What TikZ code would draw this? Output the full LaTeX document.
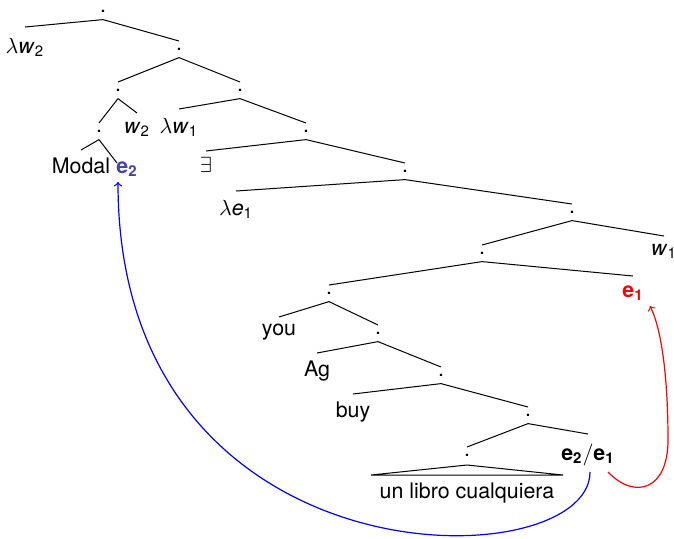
\documentclass[tikz,border=0pt]{standalone}
\usepackage{fontspec}
\setmainfont{TeX Gyre Heros}
\definecolor{slateblue}{RGB}{64,64,184}
\newcommand\var[2]{\textit{#1}\textsubscript{#2}}
\newcommand\bvar[2]{\textbf{#1}\textsubscript{\textbf{#2}}}
\begin{document}
\begin{tikzpicture}[x=0.5pt,y=-0.5pt,
  every node/.style={inner sep=0pt,outer sep=0pt,anchor=base,font=\fontsize{10.7}{13}\selectfont},
  branch/.style={line width=0.5pt},
  link/.style={->,line width=0.6pt}]
\useasboundingbox (0,0) rectangle (674,538);
% inner nodes (dots), placed on their baselines
\node (d0)  at (103,12)  {.};
\node (d1)  at (179,50)  {.};
\node (d2)  at (118,91)  {.};
\node (d3)  at (240,91)  {.};
\node (d4)  at (99,132)  {.};
\node (d5)  at (306,132) {.};
\node (d6)  at (405,172) {.};
\node (d7)  at (572,213) {.};
\node (d8)  at (482,254) {.};
\node (d9)  at (329,294) {.};
\node (d10) at (378,334) {.};
\node (d11) at (441,376) {.};
\node (d12) at (528,416) {.};
\node (d13) at (467,456) {.};
% leaves
\node (lw2)   at (25,53)   {$\lambda$\var{w}{2}};
\node (w2)    at (137,133) {\var{w}{2}};
\node (lw1)   at (179,133) {$\lambda$\var{w}{1}};
\node (modal) at (81,173)  {Modal};
\node[text=slateblue] (e2) at (127,173) {\bvar{e}{2}};
\node (ex)    at (206,172) {$\exists$};
\node (le1)   at (236,215) {$\lambda$\var{e}{1}};
\node (w1)    at (664,255) {\var{w}{1}};
\node[text=red] (e1) at (633,297) {\bvar{e}{1}};
\node (you)   at (279,335) {you};
\node (ag)    at (317,376) {Ag};
\node (buy)   at (353,417) {buy};
\node (ee)    at (588,460) {\bvar{e}{2}$/$\bvar{e}{1}};
\node (unl)   at (467,498) {un libro cualquiera};
% branches: from below a dot to above a daughter
\foreach \p/\c/\h in {d0/lw2/13pt, d0/d1/4.5pt,
                      d1/d2/4.5pt, d1/d3/4.5pt,
                      d2/d4/4.5pt, d2/w2/10pt,
                      d3/lw1/12pt, d3/d5/4.5pt,
                      d4/modal/11.5pt,
                      d5/ex/10.5pt, d5/d6/4.5pt,
                      d6/le1/12pt, d6/d7/4.5pt,
                      d7/d8/4.5pt, d7/w1/9.5pt,
                      d8/d9/4.5pt, d8/e1/10.5pt,
                      d9/you/9pt, d9/d10/4.5pt,
                      d10/ag/11.5pt, d10/d11/4.5pt,
                      d11/buy/11.5pt, d11/d12/4.5pt,
                      d12/d13/4.5pt, d12/ee/13pt}
  {\draw[branch] ([yshift=-3.8pt]\p.base) -- ([yshift=\h]\c.base);}
\draw[branch] ([yshift=-3.8pt]d4.base) -- ([xshift=-5pt,yshift=5pt]e2.base);
% triangle over the unanalysed phrase
\coordinate (tl) at (371,475);
\coordinate (tr) at (563,475);
\draw[branch] ([yshift=-4.5pt]d13.base) -- (tl) -- (tr) -- cycle;
% movement links
\draw[link,blue] ([xshift=1pt,yshift=-6pt]ee.base) .. controls (590,580) and (118,590) .. ([xshift=-4.5pt,yshift=-4.5pt]e2.base);
\draw[link,red] ([xshift=10pt,yshift=-6pt]ee.base) .. controls (635,500) and (668,490) .. (668,440)
  .. controls (668,380) and (662,330) .. ([xshift=8.5pt,yshift=-4.5pt]e1.base);
\end{tikzpicture}
\end{document}
